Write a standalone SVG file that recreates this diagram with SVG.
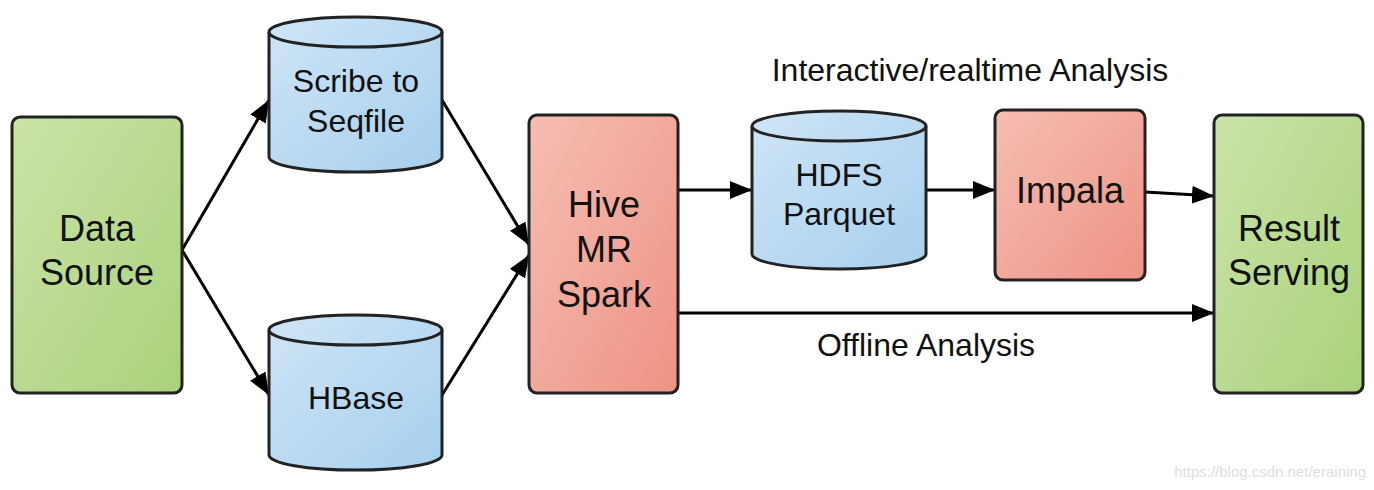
<svg xmlns="http://www.w3.org/2000/svg" width="1374" height="490" viewBox="0 0 1374 490">
<defs>
<linearGradient id="g" x1="0" y1="0" x2="1" y2="1"><stop offset="0" stop-color="#cbe3a6"/><stop offset="1" stop-color="#a9d27c"/></linearGradient>
<linearGradient id="r" x1="0" y1="0" x2="1" y2="1"><stop offset="0" stop-color="#f6beb3"/><stop offset="1" stop-color="#ee9384"/></linearGradient>
<linearGradient id="b" x1="0" y1="0" x2="1" y2="1"><stop offset="0" stop-color="#cfe5f6"/><stop offset="1" stop-color="#a7cfee"/></linearGradient>
<marker id="a" viewBox="0 0 10 10" refX="10" refY="5" markerWidth="22" markerHeight="18" markerUnits="userSpaceOnUse" orient="auto" preserveAspectRatio="none"><path d="M0,0L10,5L0,10z" fill="#000"/></marker>
<style>
.n{stroke:#222;stroke-width:3}
text{font-family:"Liberation Sans",Arial,sans-serif;fill:#111;text-anchor:middle}
.t{font-size:36px}.m{font-size:32px}.l{font-size:32px}
.c path{stroke:#000;stroke-width:3;fill:none;marker-end:url(#a)}
</style>
</defs>
<rect width="1374" height="490" fill="#fff"/>
<g class="c">
<path d="M182,250L269,100"/>
<path d="M182,250L269,395"/>
<path d="M442,100L529,245"/>
<path d="M442,395L529,255"/>
<path d="M678,190L752,190"/>
<path d="M926,190L995,190"/>
<path d="M1145,192L1214,196"/>
<path d="M678,313L1214,313"/>
</g>
<g id="datasource"><rect class="n" x="12" y="117" width="170" height="276" rx="8" fill="url(#g)"/><text class="t" x="97" y="241">Data</text><text class="t" x="97" y="285">Source</text></g>
<g id="scribe"><path class="n" fill="url(#b)" d="M269,32A86,15 0 0 1 442,32V157A86,15 0 0 1 269,157Z"/><path class="n" fill="none" d="M269,32A86,15 0 0 0 442,32"/><text class="m" x="356" y="92">Scribe to</text><text class="m" x="356" y="132">Seqfile</text></g>
<g id="hbase"><path class="n" fill="url(#b)" d="M269,330A86,15 0 0 1 442,330V455A86,15 0 0 1 269,455Z"/><path class="n" fill="none" d="M269,330A86,15 0 0 0 442,330"/><text class="m" x="356" y="409">HBase</text></g>
<g id="hive"><rect class="n" x="529" y="115" width="149" height="278" rx="8" fill="url(#r)"/><text class="t" x="604" y="217">Hive</text><text class="t" x="604" y="262">MR</text><text class="t" x="604" y="307">Spark</text></g>
<g id="hdfs"><path class="n" fill="url(#b)" d="M752,126A87,15 0 0 1 926,126V254A87,15 0 0 1 752,254Z"/><path class="n" fill="none" d="M752,126A87,15 0 0 0 926,126"/><text class="m" x="839" y="186">HDFS</text><text class="m" x="839" y="225">Parquet</text></g>
<g id="impala"><rect class="n" x="995" y="110" width="150" height="170" rx="8" fill="url(#r)"/><text class="t" x="1070" y="203">Impala</text></g>
<g id="result"><rect class="n" x="1214" y="115" width="149" height="278" rx="8" fill="url(#g)"/><text class="t" x="1289" y="241">Result</text><text class="t" x="1289" y="285">Serving</text></g>
<text class="l" x="970" y="81">Interactive/realtime Analysis</text>
<text class="l" x="926" y="356">Offline Analysis</text>
<text x="1366" y="477" style="font-size:15px;fill:#ddd;text-anchor:end">https://blog.csdn.net/eraining</text>
</svg>
